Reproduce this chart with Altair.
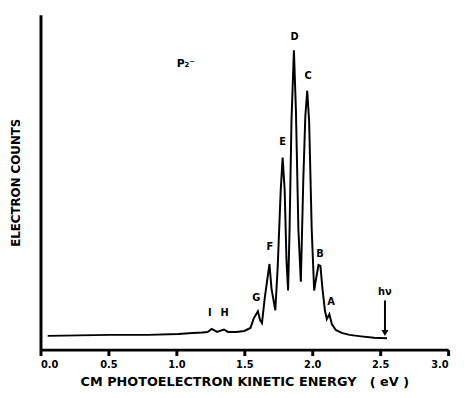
import altair as alt
import pandas as pd

# traced spectrum (energy in eV, counts in arbitrary units)
energy = [0.053, 0.509, 0.79, 1.015, 1.12, 1.19, 1.23, 1.26, 1.30, 1.32, 1.35, 1.38, 1.44, 1.50,
          1.545, 1.57, 1.60, 1.616, 1.63, 1.65, 1.685, 1.70, 1.728, 1.745, 1.768, 1.782, 1.797,
          1.81, 1.822, 1.833, 1.847, 1.865, 1.88, 1.898, 1.916, 1.934, 1.949, 1.963, 1.977,
          1.996, 2.014, 2.028, 2.046, 2.06, 2.075, 2.093, 2.107, 2.126, 2.144, 2.173, 2.216,
          2.274, 2.36, 2.455, 2.55]
counts = [14, 15, 15, 16, 17, 17.5, 18, 21, 18, 19, 20.5, 18, 18, 19,
          22, 32, 39, 30, 27, 52, 87, 62, 40, 82, 162, 195, 162,
          92, 60, 122, 232, 304, 242, 122, 69, 172, 237, 263, 232,
          122, 60, 72, 86, 85, 62, 40, 31, 36, 26, 20, 17,
          15, 13.5, 12, 11.5]

peak_labels = ["D", "C", "E", "F", "G", "B", "A", "I", "H"]
label_energy = [1.870, 1.970, 1.782, 1.688, 1.588, 2.057, 2.138, 1.247, 1.355]
label_counts = [317, 278, 211, 104, 52, 97, 48, 37, 37]

species_label = ["P\u2082\u207b"]
species_energy = [1.07]
species_counts = [290]

hv_energy = [2.535]
hv_text_counts = [59]
hv_arrow_top = [50]
hv_arrow_bottom = [17]

x_ticks = [0.0, 0.5, 1.0, 1.5, 2.0, 2.5, 3.0]

FONT = "DejaVu Sans"
NB = "\u00a0"

df = pd.DataFrame({"energy": energy, "counts": counts})
lab = pd.DataFrame({"energy": label_energy, "counts": label_counts, "text": peak_labels})
sp = pd.DataFrame({"energy": species_energy, "counts": species_counts, "text": species_label})
hv = pd.DataFrame({"energy": hv_energy, "counts": hv_text_counts, "top": hv_arrow_top,
                   "bottom": hv_arrow_bottom, "text": ["h\u03bd"]})

xscale = alt.Scale(domain=[0, 3], nice=False, zero=False)
yscale = alt.Scale(domain=[0, 340], nice=False)

x_title = NB.join(["CM", "PHOTOELECTRON", "KINETIC", "ENERGY", NB, "(" + NB + "eV" + NB + ")"])

line = alt.Chart(df).mark_line(color="black", strokeWidth=2).encode(
    x=alt.X("energy:Q", scale=xscale,
            axis=alt.Axis(values=x_ticks, format=".1f", grid=False, title=x_title)),
    y=alt.Y("counts:Q", scale=yscale,
            axis=alt.Axis(labels=False, ticks=False, grid=False, title="ELECTRON COUNTS")),
)

labels = alt.Chart(lab).mark_text(font=FONT, fontSize=10, fontWeight="bold", color="black").encode(
    x=alt.X("energy:Q", scale=xscale), y=alt.Y("counts:Q", scale=yscale), text="text:N")

species = alt.Chart(sp).mark_text(font=FONT, fontSize=11, fontWeight="bold", color="black").encode(
    x=alt.X("energy:Q", scale=xscale), y=alt.Y("counts:Q", scale=yscale), text="text:N")

hv_text = alt.Chart(hv).mark_text(font=FONT, fontSize=10, fontWeight="bold", color="black").encode(
    x=alt.X("energy:Q", scale=xscale), y=alt.Y("counts:Q", scale=yscale), text="text:N")

hv_rule = alt.Chart(hv).mark_rule(color="black", strokeWidth=2).encode(
    x=alt.X("energy:Q", scale=xscale), y=alt.Y("top:Q", scale=yscale), y2="bottom:Q")

hv_head = alt.Chart(hv).mark_point(shape="triangle-down", filled=True, color="black",
                                   size=50, opacity=1).encode(
    x=alt.X("energy:Q", scale=xscale), y=alt.Y("bottom:Q", scale=yscale))

chart = alt.layer(line, labels, species, hv_text, hv_rule, hv_head).properties(
    width=414, height=340,
    autosize=alt.AutoSizeParams(type="none"),
    padding={"left": 33, "top": 4, "right": 9, "bottom": 38},
).configure_view(stroke=None).configure_axis(
    domainColor="black", domainWidth=3, tickColor="black", tickWidth=3, tickSize=6,
    labelFont=FONT, labelFontSize=10, labelFontWeight="bold", labelColor="black", labelPadding=4,
    titleFont=FONT, titleFontWeight="bold", titleColor="black",
).configure_axisX(titlePadding=6, titleFontSize=13).configure_axisY(titlePadding=18, titleFontSize=12)

chart.save("out.html", embed_options={"renderer": "svg", "actions": False})
